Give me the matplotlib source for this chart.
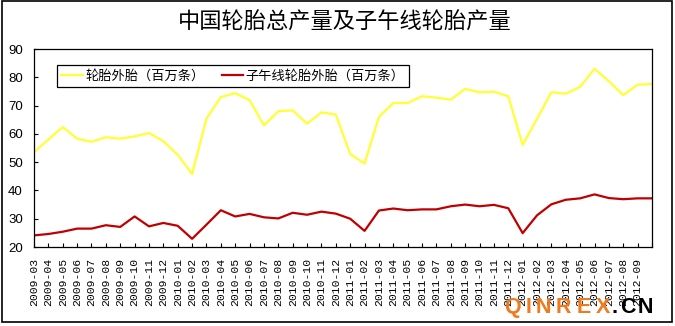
import matplotlib
matplotlib.use("Agg")
import matplotlib.pyplot as plt
from matplotlib.patches import Rectangle
import numpy as np

plt.rcParams['font.family'] = ['Noto Sans CJK SC', 'DejaVu Sans']

# monthly output, 2009-03 .. 2012-10 (millions of tyres)
months = ["2009-03", "2009-04", "2009-05", "2009-06", "2009-07", "2009-08",
          "2009-09", "2009-10", "2009-11", "2009-12", "2010-01", "2010-02",
          "2010-03", "2010-04", "2010-05", "2010-06", "2010-07", "2010-08",
          "2010-09", "2010-10", "2010-11", "2010-12", "2011-01", "2011-02",
          "2011-03", "2011-04", "2011-05", "2011-06", "2011-07", "2011-08",
          "2011-09", "2011-10", "2011-11", "2011-12", "2012-01", "2012-02",
          "2012-03", "2012-04", "2012-05", "2012-06", "2012-07", "2012-08",
          "2012-09", "2012-10"]

tyres = [53.5, 58.0, 62.4, 58.3, 57.2, 58.8, 58.3, 59.1, 60.3, 57.4, 52.6, 45.8,
         65.4, 73.0, 74.4, 71.9, 63.0, 68.0, 68.3, 63.6, 67.6, 66.8, 52.9, 49.5,
         66.0, 70.9, 70.9, 73.3, 72.8, 72.1, 75.9, 74.7, 74.9, 73.3, 56.1, 65.3,
         74.7, 74.2, 76.6, 83.0, 78.6, 73.7, 77.4, 77.6]

radial = [24.1, 24.6, 25.4, 26.5, 26.5, 27.7, 27.1, 30.8, 27.3, 28.5, 27.5, 22.9,
          27.9, 33.0, 30.8, 31.7, 30.5, 30.1, 32.1, 31.4, 32.5, 31.8, 30.0, 25.7,
          32.9, 33.6, 33.0, 33.3, 33.3, 34.4, 35.0, 34.4, 34.9, 33.7, 24.9, 31.2,
          35.1, 36.7, 37.2, 38.6, 37.3, 36.9, 37.2, 37.2]

fig = plt.figure(figsize=(6.75, 3.26), dpi=100)
ax = fig.add_axes([34 / 675, 79 / 326, 618 / 675, 198 / 326])

x = np.arange(len(months))
ax.plot(x, tyres, color="#ffff33", lw=1.6, label="轮胎外胎（百万条）")
ax.plot(x, radial, color="#c00000", lw=1.6, label="子午线轮胎外胎（百万条）")

ax.set_xlim(0, len(months) - 1)
ax.set_ylim(20, 90)
ax.set_yticks(range(20, 91, 10))
ax.set_xticks(x)
ax.set_xticklabels(months, rotation=90, family="Liberation Mono", fontsize=8.2)
ax.get_xticklabels()[-1].set_visible(False)
for lab in ax.get_yticklabels():
    lab.set_family("Liberation Sans")
    lab.set_fontsize(9.5)
ax.tick_params(axis="x", direction="in", length=3, width=0.8, pad=8)
ax.tick_params(axis="y", direction="in", length=3, width=0.8, pad=8)
for sp in ax.spines.values():
    sp.set_linewidth(0.9)

leg = ax.legend(loc="upper left", bbox_to_anchor=(0.037, 0.919), ncol=2,
                fancybox=False, edgecolor="black", framealpha=1,
                fontsize=9.5, handlelength=1.6, handletextpad=0.2,
                columnspacing=1.3, borderaxespad=0, borderpad=0.35)
leg.get_frame().set_linewidth(0.9)

fig.text(0.51, 1 - 22 / 326, "中国轮胎总产量及子午线轮胎产量",
         ha="center", va="center", fontsize=16)

# outer chart border
fig.add_artist(Rectangle((2 / 675, 4 / 326), 670 / 675, 321 / 326,
                         transform=fig.transFigure, fill=False,
                         edgecolor="black", lw=1.2))

# site mark, letter-spaced
mark = [("Q", 512.5, "#f07a1e"), ("I", 528.5, "#f07a1e"), ("N", 543.5, "#f07a1e"),
        ("R", 563.5, "#f07a1e"), ("E", 584, "#f07a1e"), ("X", 602.5, "#f07a1e"),
        (".", 614.5, "black"), ("C", 627.5, "black"), ("N", 645, "black")]
for ch, px, col in mark:
    fig.text(px / 675, 13 / 326, ch, color=col, fontsize=15.5, fontweight="bold",
             family="Liberation Sans", ha="center", va="baseline")

fig.savefig("out.png", dpi=100)
